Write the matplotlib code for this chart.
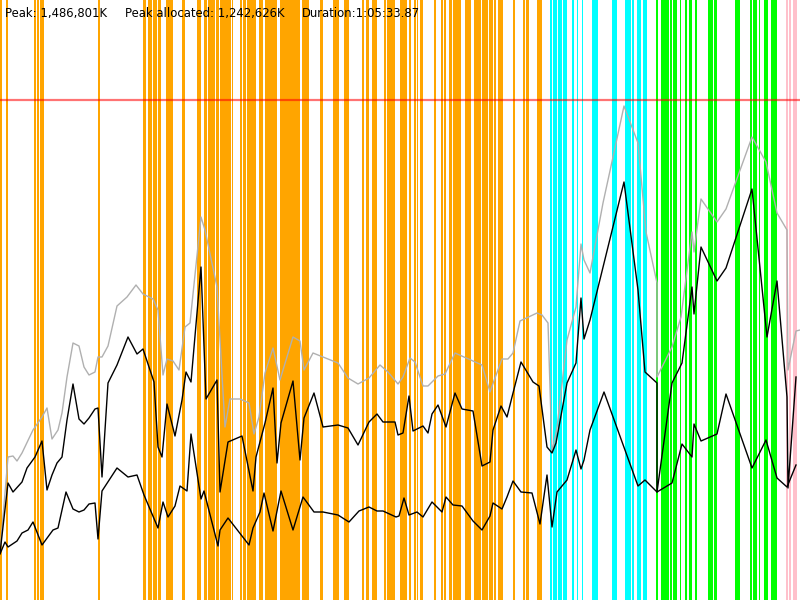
import matplotlib
matplotlib.use("Agg")
import matplotlib.pyplot as plt

# time axis is in sample ticks (0..800), memory in chart units (limit line = 500)
peak_x = [0, 8, 13, 17, 22, 33, 42, 47, 52, 58, 62, 67, 73, 79, 84, 89, 95, 98, 102, 108,
          117, 127, 136, 143, 153, 158, 163, 167, 173, 179, 185, 190, 201, 205, 217, 225, 230, 240, 249, 254,
          259, 265, 273, 280, 293, 300, 304, 313, 338, 348, 358, 369, 380, 388, 398, 403, 410, 415, 423, 428,
          438, 445, 455, 473, 482, 490, 495, 502, 508, 513, 520, 537, 542, 548, 552, 557, 567, 576, 581, 584,
          590, 603, 613, 624, 638, 646, 657, 657, 672, 681, 692, 694, 701, 717, 726, 752, 766, 777, 787, 788,
          796, 800]
peak_mem = [47, 143, 144, 139, 147, 170, 183, 192, 161, 170, 187, 223, 257, 254, 233, 225, 228, 243, 243, 254,
            294, 303, 315, 306, 301, 290, 225, 241, 239, 230, 273, 277, 383, 370, 313, 173, 201, 201, 197, 166,
            183, 227, 252, 220, 263, 259, 230, 247, 237, 222, 216, 222, 235, 228, 216, 223, 242, 238, 214, 214,
            224, 226, 247, 239, 235, 208, 222, 241, 241, 247, 279, 287, 285, 277, 148, 172, 260, 293, 356, 340,
            327, 397, 443, 494, 457, 368, 317, 223, 253, 283, 368, 348, 401, 378, 391, 463, 438, 387, 370, 230,
            269, 270]

alloc_x = [0, 8, 13, 22, 27, 35, 42, 47, 52, 57, 62, 67, 73, 79, 84, 89, 95, 98, 102, 108,
           117, 128, 137, 143, 154, 158, 162, 167, 175, 182, 186, 191, 201, 206, 217, 220, 228, 242, 253, 256,
           265, 273, 277, 281, 293, 300, 304, 314, 323, 338, 348, 358, 369, 377, 383, 395, 398, 403, 409, 413,
           423, 428, 432, 438, 446, 455, 462, 473, 482, 490, 493, 501, 507, 512, 521, 533, 539, 547, 552, 556,
           567, 576, 581, 584, 590, 624, 638, 645, 657, 657, 672, 682, 692, 694, 701, 717, 726, 752, 767, 777,
           787, 788, 796]
alloc_mem = [47, 117, 108, 118, 132, 143, 159, 110, 125, 137, 143, 180, 216, 181, 176, 182, 191, 192, 123, 217,
             235, 263, 246, 251, 218, 153, 143, 196, 164, 200, 228, 218, 333, 201, 220, 108, 158, 164, 109, 143,
             177, 212, 137, 177, 219, 140, 182, 207, 173, 175, 172, 155, 178, 186, 178, 178, 165, 167, 204, 169,
             174, 167, 186, 195, 173, 207, 191, 189, 134, 138, 170, 194, 183, 203, 238, 218, 214, 153, 147, 157,
             217, 237, 302, 261, 280, 418, 310, 228, 217, 108, 217, 237, 313, 286, 353, 319, 332, 411, 263, 319,
             203, 112, 223]

used_x = [0, 5, 8, 17, 22, 28, 33, 42, 53, 58, 66, 73, 79, 84, 89, 95, 98, 102, 117, 128,
          137, 144, 158, 163, 168, 175, 180, 187, 191, 201, 204, 218, 220, 228, 249, 253, 260, 264, 273, 281,
          293, 303, 314, 323, 338, 349, 359, 369, 377, 383, 396, 399, 404, 409, 417, 423, 432, 442, 446, 453,
          462, 473, 482, 490, 493, 502, 507, 513, 521, 532, 540, 547, 552, 557, 567, 576, 581, 584, 590, 604,
          638, 645, 657, 672, 682, 692, 694, 701, 717, 726, 752, 766, 777, 787, 796]
used_mem = [46, 58, 53, 59, 67, 70, 78, 55, 70, 72, 108, 91, 88, 90, 96, 97, 61, 109, 132, 123,
            125, 105, 72, 98, 83, 94, 114, 109, 166, 101, 109, 54, 70, 82, 55, 72, 88, 107, 69, 109,
            70, 103, 88, 88, 85, 78, 89, 93, 89, 89, 83, 84, 102, 85, 88, 83, 98, 88, 103, 95,
            94, 79, 70, 84, 97, 91, 103, 119, 108, 107, 76, 125, 73, 108, 120, 150, 131, 140, 170, 208,
            114, 120, 108, 117, 156, 143, 176, 159, 166, 206, 132, 160, 122, 113, 135]

limit_mem = 500

# phase markers (start, end) in ticks
orange_start = [0, 6, 34, 37, 39.5, 98, 142.7, 148.3, 152.7, 157.7, 165.7, 181.7, 197.3, 204, 207.7, 216, 220,
                231.7, 240, 243.3, 246.7, 259, 265, 280, 301.7, 320, 332.7, 344, 347.3, 362.3, 366, 371.7,
                384.3, 386.7, 391, 400, 409, 414, 416.7, 420, 434.3, 440.7, 444.3, 449.3, 453.3, 456, 465, 474,
                481.7, 489.3, 494, 498.3, 513.3, 523.3, 526, 537.3]
orange_end = [2, 8, 36, 39, 44, 99.5, 146, 151.7, 156.7, 161, 173.3, 185, 200.7, 206.7, 215, 219, 230.7,
              233.3, 242, 246, 256, 263.3, 276.7, 300, 309, 322.7, 339, 346.7, 349, 364.3, 369.3, 376.7,
              386, 390.7, 395, 407.3, 411, 416, 418.3, 422.7, 436, 442.7, 446, 452, 455.7, 461, 470.7, 480.7,
              488.3, 493.3, 496, 503.3, 515, 525.3, 529.3, 542.3]
cyan_start = [550, 553, 558, 563, 572, 577, 582, 592, 612, 625, 632, 637, 643]
cyan_end = [552, 557, 562, 567, 574, 578, 583, 598, 617, 631, 634, 641, 647]
green_start = [656, 661, 670, 673, 680, 685, 689, 695, 708, 714, 735, 750, 753, 759, 764, 771]
green_end = [657.5, 669, 672, 677, 681, 687, 692, 697, 713, 717, 740, 752, 757, 760, 768, 777]
pink_start = [786, 789, 793]
pink_end = [788, 791, 797]

fig = plt.figure(figsize=(8, 6), dpi=100)
ax = fig.add_axes([0, 0, 1, 1])
ax.set_xlim(0, 800)
ax.set_ylim(0, 600)
ax.axis('off')

for starts, ends, col in [(orange_start, orange_end, '#ffa500'),
                          (cyan_start, cyan_end, '#00ffff'),
                          (green_start, green_end, '#00ff00'),
                          (pink_start, pink_end, '#ffc0cb')]:
    for s, e in zip(starts, ends):
        ax.axvspan(s, e, color=col, lw=0)

ax.axhline(limit_mem, color='red', alpha=0.55, lw=1.6)
ax.plot(peak_x, peak_mem, color='#b0b0b0', lw=1)
ax.plot(alloc_x, alloc_mem, color='black', lw=1)
ax.plot(used_x, used_mem, color='black', lw=1)

fig.text(5 / 800, 1 - 17 / 600, "Peak: 1,486,801K", fontsize=8.4, va='baseline')
fig.text(125 / 800, 1 - 17 / 600, "Peak allocated: 1,242,626K", fontsize=8.4, va='baseline')
fig.text(302 / 800, 1 - 17 / 600, "Duration:1:05:33.87", fontsize=8.4, va='baseline')

fig.savefig("out.png", dpi=100)
